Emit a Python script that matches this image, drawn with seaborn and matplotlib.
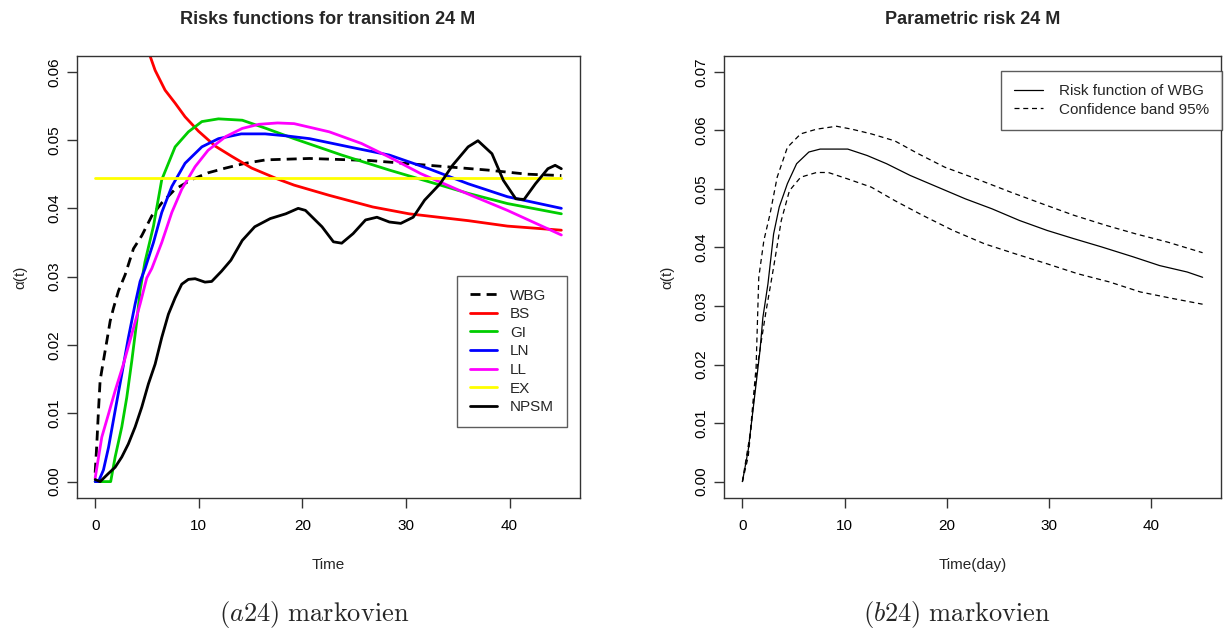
import numpy as np
import pandas as pd
import matplotlib
matplotlib.use("Agg")
import matplotlib.pyplot as plt
from matplotlib.ticker import FormatStrFormatter
import seaborn as sns

# ---------------- data (left panel) ----------------
t_wbg = [0.0, 0.16, 0.32, 0.48, 0.8, 1.13, 1.45, 1.77, 2.25, 2.9, 3.7, 4.5, 5.47, 6.43, 7.72, 9.3, 10.9, 12.6, 14.5, 16.5, 20.7, 26.5, 32.2, 37.9, 41.7, 45.0]
y_wbg = [0.0013, 0.0055, 0.0104, 0.0148, 0.0177, 0.0206, 0.0235, 0.0254, 0.0279, 0.0303, 0.0341, 0.0360, 0.0389, 0.0408, 0.0428, 0.0442, 0.0452, 0.0459, 0.0466, 0.0471, 0.0473, 0.0470, 0.0463, 0.0456, 0.0450, 0.0448]

t_bs = [0.3, 1.0, 2.0, 3.0, 4.0, 5.3, 5.79, 6.75, 7.72, 8.68, 9.97, 11.6, 13.2, 15.1, 17.6, 19.2, 22.6, 26.8, 30.3, 36.0, 39.8, 45.0]
y_bs = [0.14, 0.105, 0.088, 0.077, 0.069, 0.0623, 0.0602, 0.0573, 0.0554, 0.0534, 0.0513, 0.0491, 0.0476, 0.0459, 0.0443, 0.0434, 0.0419, 0.0402, 0.0392, 0.0382, 0.0374, 0.0368]

t_gi = [0.0, 1.5, 1.93, 2.57, 3.05, 3.54, 4.02, 4.34, 4.8, 5.63, 6.43, 7.72, 9.0, 10.3, 11.9, 14.2, 16.5, 19.2, 23.8, 28.4, 32.2, 36.0, 39.8, 45.0]
y_gi = [0.0, 0.0, 0.0036, 0.0080, 0.0123, 0.0177, 0.0235, 0.0280, 0.0321, 0.0374, 0.0442, 0.0490, 0.0512, 0.0527, 0.0531, 0.0529, 0.0517, 0.0502, 0.0478, 0.0456, 0.0439, 0.0422, 0.0407, 0.0392]

t_ln = [0.0, 0.32, 0.8, 1.29, 1.93, 2.57, 3.2, 3.86, 4.34, 4.82, 5.63, 6.43, 7.4, 8.68, 10.3, 11.9, 14.1, 16.4, 18.5, 20.7, 24.5, 28.4, 32.2, 36.0, 39.8, 45.0]
y_ln = [0.0, 0.0, 0.0017, 0.0050, 0.0104, 0.0157, 0.0210, 0.0260, 0.0293, 0.0312, 0.0350, 0.0394, 0.0432, 0.0466, 0.0490, 0.0502, 0.0509, 0.0509, 0.0506, 0.0502, 0.0490, 0.0478, 0.0458, 0.0436, 0.0417, 0.0400]

t_ll = [0.0, 0.64, 1.29, 1.93, 2.73, 3.54, 4.34, 4.98, 5.47, 6.43, 7.4, 8.36, 9.65, 10.9, 12.6, 14.2, 15.8, 17.6, 19.2, 22.6, 25.7, 28.4, 31.4, 35.2, 39.8, 45.0]
y_ll = [0.0005, 0.0065, 0.0099, 0.0133, 0.0172, 0.0216, 0.0260, 0.0298, 0.0312, 0.0350, 0.0394, 0.0428, 0.0461, 0.0485, 0.0505, 0.0517, 0.0523, 0.0525, 0.0524, 0.0512, 0.0495, 0.0475, 0.0451, 0.0426, 0.0397, 0.0361]

t_ex = [0.0, 45.0]
y_ex = [0.0445, 0.0445]

t_np = [0.0, 0.48, 1.29, 1.93, 2.57, 3.2, 3.86, 4.5, 5.14, 5.79, 6.43, 7.07, 7.72, 8.36, 9.0, 9.65, 10.6, 11.25, 12.2, 13.1, 14.2, 15.4, 16.9, 18.4, 19.6, 20.3, 21.9, 23.0, 23.8, 24.9, 26.1, 27.2, 28.4, 29.5, 30.7, 31.8, 33.3, 34.5, 36.0, 36.95, 38.3, 39.4, 40.6, 41.4, 42.5, 43.7, 44.4, 45.0]
y_np = [0.0003, 0.0, 0.0012, 0.0021, 0.0036, 0.0055, 0.0080, 0.0109, 0.0143, 0.0172, 0.0211, 0.0245, 0.0269, 0.0289, 0.0296, 0.0297, 0.0292, 0.0293, 0.0308, 0.0324, 0.0353, 0.0373, 0.0385, 0.0392, 0.0400, 0.0397, 0.0373, 0.0351, 0.0349, 0.0363, 0.0383, 0.0387, 0.0380, 0.0378, 0.0387, 0.0412, 0.0436, 0.0463, 0.0490, 0.0499, 0.0480, 0.0441, 0.0414, 0.0413, 0.0436, 0.0458, 0.0463, 0.0458]

# ---------------- data (right panel) ----------------
t_fit = [0.0, 0.57, 1.15, 1.72, 2.0, 2.5, 3.05, 3.6, 4.4, 5.3, 6.5, 7.6, 10.3, 12.2, 14.1, 16.4, 19.1, 21.8, 24.4, 27.1, 29.8, 32.4, 35.1, 38.2, 40.8, 43.5, 45.0]
y_fit = [0.0, 0.0054, 0.0139, 0.0224, 0.028, 0.0338, 0.0423, 0.0469, 0.0509, 0.0543, 0.0563, 0.0568, 0.0568, 0.0557, 0.0543, 0.0523, 0.0503, 0.0483, 0.0466, 0.0446, 0.0429, 0.0415, 0.0401, 0.0384, 0.0369, 0.0358, 0.0349]

t_up = [0.0, 0.76, 1.34, 1.6, 2.1, 2.7, 3.4, 4.4, 5.7, 7.25, 9.2, 10.7, 12.6, 14.9, 17.2, 19.8, 22.9, 26.3, 29.4, 32.4, 35.5, 38.5, 41.6, 45.0]
y_up = [0.0, 0.0082, 0.0196, 0.0349, 0.0412, 0.0457, 0.0520, 0.0571, 0.0594, 0.0602, 0.0607, 0.0602, 0.0594, 0.0582, 0.0560, 0.0537, 0.0517, 0.0494, 0.0474, 0.0455, 0.0438, 0.0423, 0.0409, 0.0391]

t_lo = [0.0, 0.57, 0.95, 1.45, 2.3, 3.05, 3.8, 4.6, 5.7, 7.25, 8.4, 10.3, 12.6, 14.9, 17.6, 20.6, 23.7, 26.7, 29.8, 32.8, 35.9, 38.9, 42.0, 45.0]
y_lo = [0.0, 0.0043, 0.0111, 0.0196, 0.0290, 0.0366, 0.0446, 0.0497, 0.0520, 0.0528, 0.0528, 0.0517, 0.0503, 0.0480, 0.0455, 0.0429, 0.0406, 0.0389, 0.0372, 0.0355, 0.0341, 0.0324, 0.0313, 0.0303]

left_names = ["WBG", "BS", "GI", "LN", "LL", "EX", "NPSM"]
left_colors = ["black", "#ff0000", "#00cd00", "#0000ff", "#ff00ff", "#ffff00", "black"]
right_labels = ["Risk function of WBG", "Confidence band 95%"]
x_ticks = [0, 10, 20, 30, 40]
left_yticks = [0.00, 0.01, 0.02, 0.03, 0.04, 0.05, 0.06]
right_yticks = [0.00, 0.01, 0.02, 0.03, 0.04, 0.05, 0.06, 0.07]

# ---------------- style ----------------
sns.set_theme(style="ticks")
plt.rcParams["font.family"] = ["Liberation Sans", "DejaVu Sans"]
plt.rcParams["axes.edgecolor"] = "#333333"
plt.rcParams["axes.linewidth"] = 1.0

W, H = 1228, 633
fig = plt.figure(figsize=(W / 100, H / 100), dpi=100)
fig.patch.set_facecolor("white")

def ax_rect(x0, x1, y0, y1):
    return [x0 / W, 1 - y1 / H, (x1 - x0) / W, (y1 - y0) / H]

axL = fig.add_axes(ax_rect(76.5, 580, 56, 498))
axR = fig.add_axes(ax_rect(724, 1221, 56, 498))

lw = 2.0
series = [(t_wbg, y_wbg), (t_bs, y_bs), (t_gi, y_gi), (t_ln, y_ln), (t_ll, y_ll), (t_ex, y_ex), (t_np, y_np)]
for (tt, yy), name, col in zip(series, left_names, left_colors):
    df = pd.DataFrame({"t": tt, "y": yy})
    ls = (0, (3.6, 2.2)) if name == "WBG" else "-"
    sns.lineplot(data=df, x="t", y="y", ax=axL, color=col, linewidth=lw,
                 linestyle=ls, label=name, estimator=None, sort=False)

for tt, yy, ls, lab in [(t_fit, y_fit, "-", right_labels[0]),
                        (t_up, y_up, (0, (4, 3)), right_labels[1]),
                        (t_lo, y_lo, (0, (4, 3)), None)]:
    df = pd.DataFrame({"t": tt, "y": yy})
    sns.lineplot(data=df, x="t", y="y", ax=axR, color="black", linewidth=0.9,
                 linestyle=ls, label=lab, estimator=None, sort=False)

for ax, yt, ylim in [(axL, left_yticks, (-0.0024, 0.0623)), (axR, right_yticks, (-0.0028, 0.0727))]:
    ax.set_xlim(-1.8, 46.8)
    ax.set_ylim(*ylim)
    ax.set_xticks(x_ticks)
    ax.set_yticks(yt)
    ax.yaxis.set_major_formatter(FormatStrFormatter("%.2f"))
    ax.set_xlabel("")
    ax.set_ylabel("")
    ax.tick_params(axis="both", direction="out", length=7, width=1.0,
                   color="#333333", labelsize=11, labelcolor="black")
    ax.tick_params(axis="x", pad=8)
    ax.tick_params(axis="y", pad=4, labelrotation=90)
    for lab in ax.get_yticklabels():
        lab.set_va("center")
    for sp in ax.spines.values():
        sp.set_visible(True)
        sp.set_color("#333333")
        sp.set_linewidth(1.0)
    ax.grid(False)

legL = axL.legend(loc="upper left", bbox_to_anchor=(0.755, 0.503), borderaxespad=0,
                  frameon=True, fancybox=False, edgecolor="#333333", fontsize=11,
                  handlelength=1.8, handletextpad=0.85, labelspacing=0.3, borderpad=0.85)
legL.get_frame().set_linewidth(1.0)
legR = axR.legend(loc="upper right", bbox_to_anchor=(1.003, 0.966), borderaxespad=0,
                  frameon=True, fancybox=False, edgecolor="#333333", fontsize=11,
                  handlelength=1.9, handletextpad=1.1, labelspacing=0.3, borderpad=0.85)
legR.get_frame().set_linewidth(1.0)

def ftext(x, y, s, **kw):
    fig.text(x / W, 1 - y / H, s, ha="center", va="center", **kw)

ftext(328, 20, "Risks functions for transition 24 M", fontsize=13, fontweight="bold")
ftext(973, 20, "Parametric risk 24 M", fontsize=13, fontweight="bold")
ftext(328, 565, "Time", fontsize=11)
ftext(973, 565, "Time(day)", fontsize=11)
ftext(20, 277, "α(t)", fontsize=11, rotation=90)
ftext(667, 277, "α(t)", fontsize=11, rotation=90)
ftext(314, 615, r"$(a24)\ \mathrm{markovien}$", fontsize=19, math_fontfamily="cm")
ftext(957, 615, r"$(b24)\ \mathrm{markovien}$", fontsize=19, math_fontfamily="cm")

fig.savefig("out.png", dpi=100, facecolor="white")
